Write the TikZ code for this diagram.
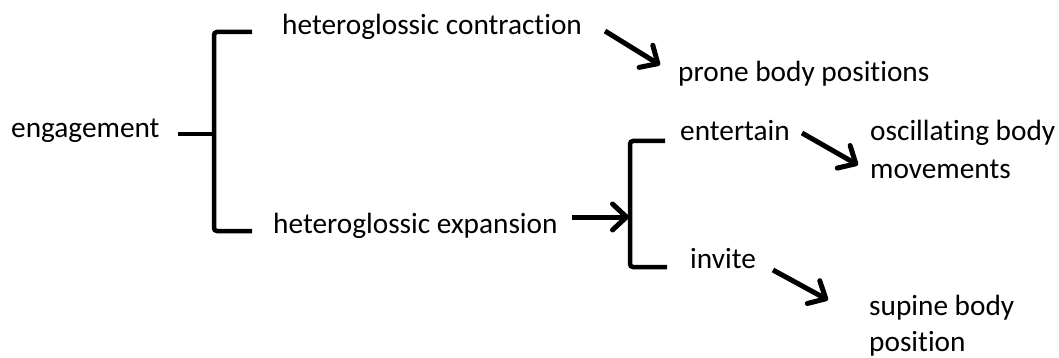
\documentclass[tikz,border=0pt]{standalone}
\usepackage{fontspec}
\setmainfont[Ligatures={NoCommon,NoRequired,NoContextual}]{Carlito}
\usetikzlibrary{arrows.meta}
\begin{document}
\begin{tikzpicture}[x=1pt,y=-1pt,
  lbl/.style={anchor=base west,inner sep=0pt,font=\fontsize{29.3}{38}\selectfont,align=left},
  brk/.style={line width=4.5pt,rounded corners=3pt},
  arr/.style={line width=5pt,-{Straight Barb[length=14pt,width=26pt,line cap=round,line join=round]}}]
\useasboundingbox (0,0) rectangle (1059,358);
% texts
\node[lbl] (eng) at (11,138) {engagement};
\node[lbl] (hc)  at (282,35) {heteroglossic contraction};
\node[lbl] (pbp) at (678,82) {prone body positions};
\node[lbl] (he)  at (273,233) {heteroglossic expansion};
\node[lbl] (ent) at (680,141) {entertain};
\node[lbl] (osc) at (870,141) {\begin{tabular}[t]{@{}l@{}}oscillating body\\[-0.5pt]movements\end{tabular}};
\node[lbl] (inv) at (690,268) {invite};
\node[lbl] (sup) at (869,315) {\begin{tabular}[t]{@{}l@{}}supine body\\[-2pt]position\end{tabular}};
% bracket 1
\coordinate (s1) at (178,134);
\coordinate (sp1) at (214,134);
\coordinate (t1) at (252,32);
\coordinate (b1) at (252,231);
\draw[brk] (s1) -- (sp1);
\draw[brk] (t1) -| (sp1) |- (b1);
% bracket 2
\coordinate (sp2) at (630,217);
\coordinate (t2) at (665,141);
\coordinate (b2) at (667,267);
\draw[brk] (t2) -| (sp2) |- (b2);
% arrows
\coordinate (a1s) at (605,31);  \coordinate (a1e) at (660,65);
\coordinate (a2s) at (572,217);
\coordinate (a3s) at (802,133); \coordinate (a3e) at (858,165);
\coordinate (a4s) at (773,270); \coordinate (a4e) at (828,300);
\draw[arr] (a1s) -- (a1e);
\draw[arr] (a2s) -- ([xshift=-1pt]sp2);
\draw[arr] (a3s) -- (a3e);
\draw[arr] (a4s) -- (a4e);
\end{tikzpicture}
\end{document}
